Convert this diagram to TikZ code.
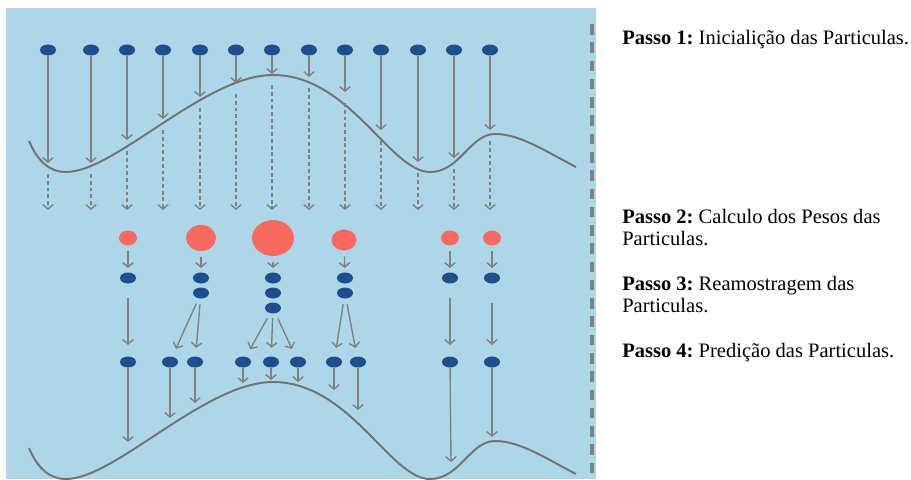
\documentclass[tikz,border=0pt]{standalone}
\usepackage{fontspec}
\setmainfont{Liberation Serif}
\usepackage{tikz}
\usetikzlibrary{shapes,arrows.meta,positioning,calc}
\definecolor{skyBg}{RGB}{173,215,232}
\definecolor{partBlue}{RGB}{30,78,140}
\definecolor{weightRed}{RGB}{246,106,95}
\definecolor{arrowGray}{RGB}{128,128,128}
\definecolor{curveGray}{RGB}{115,115,115}

\tikzset{
  particle/.style={ellipse, fill=partBlue, inner sep=0pt,
                   minimum width=0.4cm, minimum height=0.275cm},
  weight/.style={ellipse, fill=weightRed, inner sep=0pt},
  move/.style={draw=arrowGray, line width=1pt,
               -{Straight Barb[length=3.2pt,width=7.5pt]}},
  drift/.style={move, dash pattern=on 2.8pt off 2pt},
  hop/.style={move, shorten <=4pt, shorten >=3pt},
  fan/.style={move, shorten <=4pt, shorten >=6pt},
  longdrop/.style={move, shorten <=10pt, shorten >=8pt},
  track/.style={draw=curveGray, line width=1.4pt},
  stepnote/.style={anchor=base west, inner sep=0pt, text width=7.4cm,
                   align=flush left,
                   font=\fontsize{14.6pt}{15.8pt}\selectfont\frenchspacing}
}

\begin{document}
\begin{tikzpicture}[x=0.025cm, y=-0.025cm]
  \useasboundingbox (0,0) rectangle (911,479);
  \fill[skyBg] (6,8) rectangle (596,479);
  \draw[draw=curveGray!90, line width=2.2pt, dash pattern=on 7.5pt off 5.5pt]
    (592,24) -- (592,479);

  % state curve, before and after prediction
  \foreach \dy in {0,307}
    \draw[track, shift={(0,\dy)}] (29,141)
      .. controls (38,162) and (50,172) .. (66,172)
      .. controls (115,172) and (205,75) .. (273,75)
      .. controls (350,75) and (390,172) .. (430,172)
      .. controls (460,172) and (470,134) .. (495,134)
      .. controls (520,134) and (545,151) .. (576,167);

  % initial particles and their hits on the curve
  \foreach \x/\y [count=\i] in {48/163,91/163,127/140,163/119,200/97,236/83,
      272/74,309/77,345/92,381/130,418/162,454/158,490/130}{
    \node[particle] (p\i) at (\x,50) {};
    \coordinate (hit\i) at (\x,\y);
    \coordinate (drop\i) at (\x,\y+11);
    \coordinate (land\i) at (\x,210);
    \draw[move] (p\i) -- (hit\i);
    \draw[drift] (drop\i) -- (land\i);
  }

  % weights
  \node[weight, minimum width=0.45cm, minimum height=0.375cm] (w1) at (128,238) {};
  \node[weight, minimum width=0.75cm, minimum height=0.65cm] (w2) at (201,238) {};
  \node[weight, minimum width=1.05cm, minimum height=0.9cm] (w3) at (273,238) {};
  \node[weight, minimum width=0.625cm, minimum height=0.525cm] (w4) at (344,240) {};
  \node[weight, minimum width=0.45cm, minimum height=0.375cm] (w5) at (450,238) {};
  \node[weight, minimum width=0.45cm, minimum height=0.375cm] (w6) at (492,238) {};

  % resampled copies
  \node[particle] (s1a) at (128,278) {};
  \node[particle] (s2a) at (201,278) {};
  \node[particle] (s2b) at (201,293) {};
  \node[particle] (s3a) at (273,278) {};
  \node[particle] (s3b) at (273,293) {};
  \node[particle] (s3c) at (273,308) {};
  \node[particle] (s4a) at (345,278) {};
  \node[particle] (s4b) at (345,293) {};
  \node[particle] (s5a) at (450,278) {};
  \node[particle] (s6a) at (492,278) {};

  \draw[hop] (w1) -- (s1a);
  \draw[hop] (w2) -- (s2a);
  \draw[hop] (w3) -- (s3a);
  \draw[hop] (w4) -- (s4a);
  \draw[hop] (w5) -- (s5a);
  \draw[hop] (w6) -- (s6a);

  % predicted particles
  \foreach \x [count=\i] in {128,170,195,243,271,298,334,358,450,492}
    \node[particle] (n\i) at (\x,362) {};

  \draw[longdrop] (s1a) -- (n1);
  \draw[fan] (s2b) -- (n2);
  \draw[fan] (s2b) -- (n3);
  \draw[fan] (s3c) -- (n4);
  \draw[fan, shorten <=3pt] (s3c) -- (n5);
  \draw[fan] (s3c) -- (n6);
  \draw[fan] (s4b) -- (n7);
  \draw[fan] (s4b) -- (n8);
  \draw[longdrop] (s5a) -- (n9);
  \draw[longdrop, shorten <=14pt] (s6a) -- (n10);

  % predictions landing on the curve
  \foreach \x/\y [count=\i] in {128/442,170/418,195/403,243/383,271/380,
      298/382,334/390,358/410,451/462,492/437}{
    \coordinate (tip\i) at (\x,\y);
    \draw[move] (n\i) -- (tip\i);
  }

  % step descriptions
  \node[stepnote] (passo1) at (622,45)
    {\textbf{Passo 1:} Inicialição das Particulas.};
  \node[stepnote] (passo2) at (622,223)
    {\textbf{Passo 2:} Calculo dos Pesos das Particulas.};
  \node[stepnote] (passo3) at (622,290)
    {\textbf{Passo 3:} Reamostragem das Particulas.};
  \node[stepnote] (passo4) at (622,357)
    {\textbf{Passo 4:} Predição das Particulas.};
\end{tikzpicture}
\end{document}
